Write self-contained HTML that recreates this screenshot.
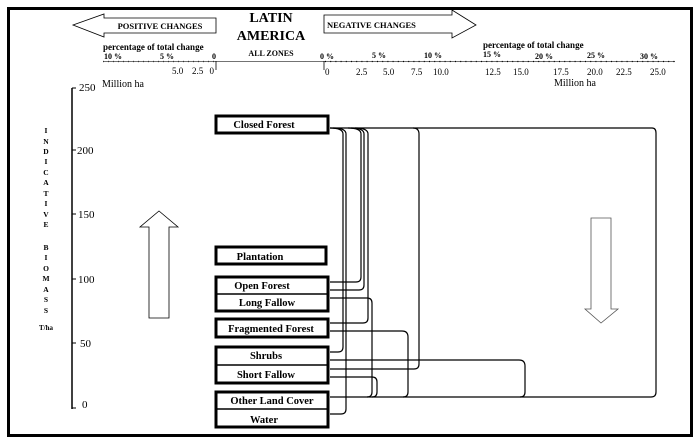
<!DOCTYPE html>
<html><head><meta charset="utf-8"><style>
html,body{margin:0;padding:0;background:#fff;}
svg{display:block;}
text{font-family:"Liberation Serif",serif;fill:#000;}
.b{font-weight:bold;}
</style></head><body>
<svg width="700" height="446" viewBox="0 0 700 446" xmlns="http://www.w3.org/2000/svg">
<rect x="0" y="0" width="700" height="446" fill="#fff"/>
<rect x="8.5" y="8.5" width="683" height="427" fill="none" stroke="#000" stroke-width="3"/>
<path d="M73,25 L104,14 L104,18 L216,18 L216,33 L104,33 L104,37 Z" fill="#fff" stroke="#000" stroke-width="0.8"/>
<text x="160" y="29" class="b" font-size="8.5" text-anchor="middle">POSITIVE CHANGES</text>
<path d="M324,15 L452,15 L452,10 L476,25 L452,38 L452,33 L324,33 Z" fill="#fff" stroke="#000" stroke-width="0.8"/>
<text x="327" y="28" class="b" font-size="8.5">NEGATIVE  CHANGES</text>
<text x="271" y="22" class="b" font-size="14" text-anchor="middle">LATIN</text>
<text x="271" y="40" class="b" font-size="14" text-anchor="middle">AMERICA</text>
<text x="271" y="56" class="b" font-size="8" text-anchor="middle">ALL ZONES</text>
<text x="103" y="50" class="b" font-size="9">percentage of total change</text>
<text x="483" y="48" class="b" font-size="9">percentage of total change</text>
<text x="104" y="59" class="b" font-size="8">10 %</text>
<text x="160" y="59" class="b" font-size="8">5 %</text>
<text x="212" y="59" class="b" font-size="8">0</text>
<text x="320" y="59" class="b" font-size="8">0 %</text>
<text x="372" y="58" class="b" font-size="8">5 %</text>
<text x="424" y="58" class="b" font-size="8">10 %</text>
<text x="483" y="57" class="b" font-size="8">15 %</text>
<text x="535" y="59" class="b" font-size="8">20 %</text>
<text x="587" y="58" class="b" font-size="8">25 %</text>
<text x="640" y="59" class="b" font-size="8">30 %</text>
<line x1="103" y1="61.5" x2="216" y2="61.5" stroke="#000" stroke-width="1.2" stroke-dasharray="1 4"/>
<line x1="103" y1="61.5" x2="675" y2="61.5" stroke="#444" stroke-width="0.8"/>
<line x1="325" y1="61.5" x2="675" y2="61.5" stroke="#000" stroke-width="1.2" stroke-dasharray="1 4.2"/>
<line x1="216" y1="61" x2="216" y2="70" stroke="#000" stroke-width="0.8"/>
<line x1="324" y1="61" x2="324" y2="70" stroke="#000" stroke-width="0.8"/>
<g font-size="9">
<text x="172" y="74">5.0</text><text x="192" y="74">2.5</text><text x="214" y="74" text-anchor="end">0</text>
<text x="325" y="75">0</text><text x="356" y="75">2.5</text><text x="383" y="75">5.0</text><text x="411" y="75">7.5</text><text x="433" y="75">10.0</text><text x="485" y="75">12.5</text><text x="513" y="75">15.0</text><text x="553" y="75">17.5</text><text x="587" y="75">20.0</text><text x="616" y="75">22.5</text><text x="650" y="75">25.0</text>
<text x="102" y="87" font-size="10">Million ha</text>
<text x="554" y="86" font-size="10">Million ha</text>
</g>
<line x1="72" y1="88" x2="72" y2="409" stroke="#000" stroke-width="1.5"/>
<g stroke="#000" stroke-width="1"><line x1="72" y1="88" x2="76" y2="88"/><line x1="72" y1="150" x2="76" y2="150"/><line x1="72" y1="214" x2="76" y2="214"/><line x1="72" y1="279" x2="76" y2="279"/><line x1="72" y1="343" x2="76" y2="343"/><line x1="72" y1="408" x2="76" y2="408"/></g>
<g font-size="11"><text x="79" y="91">250</text><text x="77" y="154">200</text><text x="78" y="218">150</text><text x="78" y="283">100</text><text x="80" y="347">50</text><text x="82" y="408">0</text></g>
<g class="b" font-size="7.5" text-anchor="middle">
<text x="46" y="133">I</text><text x="46" y="144">N</text><text x="46" y="154">D</text><text x="46" y="164">I</text><text x="46" y="175">C</text><text x="46" y="185">A</text><text x="46" y="196">T</text><text x="46" y="206">I</text><text x="46" y="217">V</text><text x="46" y="227">E</text>
<text x="46" y="250">B</text><text x="46" y="260">I</text><text x="46" y="271">O</text><text x="46" y="281">M</text><text x="46" y="292">A</text><text x="46" y="302">S</text><text x="46" y="313">S</text>
<text x="46" y="330" font-size="7">T/ha</text></g>
<path d="M159,211 L178,227 L169,227 L169,318 L149,318 L149,227 L140,227 Z" fill="#fff" stroke="#000" stroke-width="0.8"/>
<path d="M591,218 L611,218 L611,309 L618,309 L601,323 L585,309 L591,309 Z" fill="#fff" stroke="#555" stroke-width="0.8"/>
<g fill="none" stroke="#000" stroke-width="1.2">
<path d="M330,128 L652,128 Q656,128 656,133 L656,392 Q656,397 651,397 L330,397"/>
<path d="M330,128 Q343,128 343,134 L343,347 Q343,352 338,352 L330,352"/>
<path d="M333,128 Q346,128 346,134 L346,409 Q346,414 341,414 L330,414"/>
<path d="M348,128 Q361,128 361,134 L361,277 Q361,282 356,282 L330,282"/>
<path d="M351,128 Q364,128 364,134 L364,285 Q364,290 359,290 L330,290"/>
<path d="M355,128 Q368,128 368,134 L368,318 Q368,323 363,323 L330,323"/>
<path d="M413,128 Q419,128 419,134 L419,364 Q419,369 414,369 L330,369"/>
<path d="M330,298 L367,298 Q372,298 372,303 L372,392 Q372,397 367,397"/>
<path d="M330,377 L372,377 Q377,377 377,382 L377,392 Q377,397 372,397"/>
<path d="M330,331 L402,331 Q408,331 408,337 L408,392 Q408,397 403,397"/>
<path d="M330,360 L519,360 Q525,360 525,366 L525,392 Q525,397 520,397"/>
</g>
<g fill="#fff" stroke="#000" stroke-width="3">
<rect x="216" y="116" width="112" height="17"/>
<rect x="216" y="247" width="110" height="17"/>
<rect x="216" y="277" width="112" height="34"/>
<rect x="216" y="319" width="112" height="18"/>
<rect x="216" y="347" width="112" height="36"/>
<rect x="216" y="392" width="112" height="35"/>
</g>
<g stroke="#000" stroke-width="1.5"><line x1="216" y1="294" x2="328" y2="294"/><line x1="216" y1="365" x2="328" y2="365"/><line x1="216" y1="409" x2="328" y2="409"/></g>
<g class="b" font-size="10.5" text-anchor="middle">
<text x="264" y="128">Closed Forest</text>
<text x="260" y="260">Plantation</text>
<text x="262" y="289">Open Forest</text>
<text x="267" y="306">Long Fallow</text>
<text x="271" y="332">Fragmented Forest</text>
<text x="266" y="359">Shrubs</text>
<text x="266" y="378">Short Fallow</text>
<text x="272" y="404">Other Land Cover</text>
<text x="264" y="423">Water</text>
</g>
</svg>
</body></html>
